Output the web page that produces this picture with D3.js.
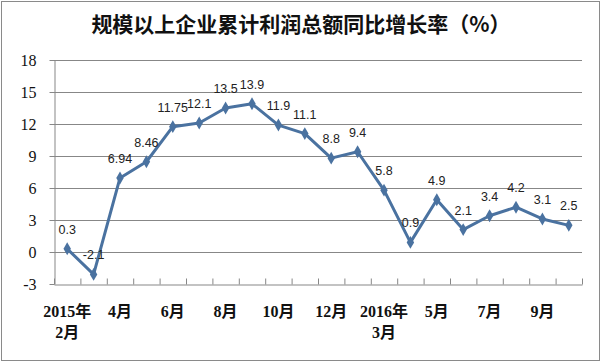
<!DOCTYPE html>
<html>
<head>
<meta charset="utf-8">
<script src="https://cdn.jsdelivr.net/npm/d3@7"></script>
<style>
  body { margin: 0; background: #fff; }
</style>
</head>
<body>
<svg id="chart"></svg>
<script>
// Chart data
const months = ['2015-02', '2015-03', '2015-04', '2015-05', '2015-06', '2015-07', '2015-08', '2015-09',
  '2015-10', '2015-11', '2015-12', '2016-02', '2016-03', '2016-04', '2016-05', '2016-06',
  '2016-07', '2016-08', '2016-09', '2016-10'];
const growth = [0.3, -2.1, 6.94, 8.46, 11.75, 12.1, 13.5, 13.9, 11.9, 11.1, 8.8, 9.4, 5.8, 0.9, 4.9, 2.1, 3.4, 4.2, 3.1, 2.5];
const valueLabels = ['0.3', '-2.1', '6.94', '8.46', '11.75', '12.1', '13.5', '13.9', '11.9', '11.1', '8.8', '9.4',
  '5.8', '0.9', '4.9', '2.1', '3.4', '4.2', '3.1', '2.5'];
// x labels: each entry is one or two lines, shown every other month
const xLabels = [['2015年', '2月'], [], ['4月'], [], ['6月'], [], ['8月'], [], ['10月'], [], ['12月'], [],
  ['2016年', '3月'], [], ['5月'], [], ['7月'], [], ['9月'], []];
const yTicks = [-3, 0, 3, 6, 9, 12, 15, 18];
const title = '规模以上企业累计利润总额同比增长率（%）';

const W = 602, H = 363;
const margin = {top: 60, right: 20, bottom: 79, left: 54};
const width = W - margin.left - margin.right;
const height = H - margin.top - margin.bottom;
const lineColor = '#4a72a0';
const gridColor = '#878787';

const svg = d3.select('#chart').attr('width', W).attr('height', H);

// outer frame
svg.append('rect')
    .attr('x', 1.5).attr('y', 1.5)
    .attr('width', W - 4).attr('height', H - 4)
    .attr('fill', 'none')
    .attr('stroke', '#8a8a8a');

svg.append('text')
    .attr('x', W / 2).attr('y', 32)
    .attr('text-anchor', 'middle')
    .style('font-family', '"Noto Sans CJK SC", sans-serif')
    .style('font-weight', 'bold')
    .style('font-size', '21px')
    .attr('fill', '#111')
    .text(title);

const chart = svg.append('g')
    .attr('transform', `translate(${margin.left},${margin.top})`);

const xScale = d3.scaleBand().domain(months).range([0, width]);
const xEdge = d3.scaleLinear().domain([0, months.length]).range([0, width]);
const yScale = d3.scaleLinear().domain([-3, 18]).range([height, 0]);

// gridlines
chart.append('g')
    .selectAll('line')
    .data(yTicks.filter(d => d !== -3))
  .join('line')
    .attr('x1', 0).attr('x2', width)
    .attr('y1', d => Math.round(yScale(d)) + 0.5)
    .attr('y2', d => Math.round(yScale(d)) + 0.5)
    .attr('stroke', gridColor);

// y axis
const yAxisG = chart.append('g')
    .attr('transform', 'translate(0.5,0)')
    .call(d3.axisLeft(yScale).tickValues(yTicks).tickSize(5).tickSizeOuter(0).tickFormat(d => String(d)));
yAxisG.select('.domain').attr('stroke', gridColor);
yAxisG.selectAll('.tick line').attr('stroke', gridColor);
yAxisG.selectAll('.tick text')
    .attr('x', -18)
    .style('font-family', '"Liberation Serif", serif')
    .style('font-size', '16px')
    .attr('fill', '#111');

// x axis: tick marks between categories, pointing inward
const xAxisG = chart.append('g')
    .attr('transform', `translate(0,${Math.round(height) + 0.5})`)
    .call(d3.axisBottom(xEdge).tickValues(d3.range(months.length + 1)).tickSize(-6).tickSizeOuter(0).tickFormat(''));
xAxisG.select('.domain').attr('stroke', gridColor);
xAxisG.selectAll('.tick line').attr('stroke', gridColor);

// x labels
const xl = chart.append('g')
    .selectAll('text')
    .data(months)
  .join('text')
    .attr('text-anchor', 'middle')
    .style('font-family', '"Liberation Serif", "Noto Sans CJK SC", serif')
    .style('font-weight', 'bold')
    .style('font-size', '16px')
    .attr('fill', '#111');
xl.each(function(d, i) {
  const t = d3.select(this);
  const cx = xScale(d) + xScale.bandwidth() / 2;
  xLabels[i].forEach((s, j) => {
    t.append('tspan')
      .attr('x', cx)
      .attr('y', height + 33 + j * 21)
      .text(s);
  });
});

// line
const line = d3.line()
    .x((d, i) => xScale(months[i]) + xScale.bandwidth() / 2)
    .y(d => yScale(d));

chart.append('path')
    .datum(growth)
    .attr('d', line)
    .attr('fill', 'none')
    .attr('stroke', lineColor)
    .attr('stroke-width', 3)
    .attr('stroke-linejoin', 'round');

chart.append('g')
    .selectAll('path')
    .data(growth)
  .join('path')
    .attr('d', d3.symbol().type(d3.symbolDiamond).size(48))
    .attr('transform', (d, i) => `translate(${xScale(months[i]) + xScale.bandwidth() / 2},${yScale(d)})`)
    .attr('fill', lineColor);

// data labels
chart.append('g')
    .selectAll('text')
    .data(growth)
  .join('text')
    .attr('x', (d, i) => xScale(months[i]) + xScale.bandwidth() / 2)
    .attr('y', d => yScale(d) - 15)
    .attr('text-anchor', 'middle')
    .style('font-family', '"Liberation Sans", sans-serif')
    .style('font-size', '12.5px')
    .attr('fill', '#222')
    .text((d, i) => valueLabels[i]);
</script>
</body>
</html>
